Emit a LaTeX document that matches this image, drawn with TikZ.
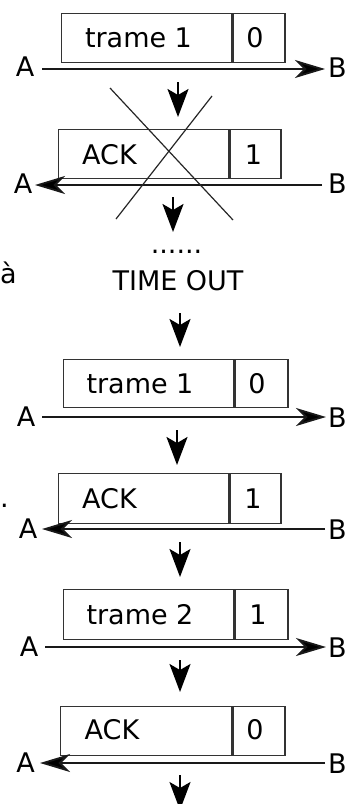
\documentclass[tikz,border=0pt]{standalone}
\usepackage{fontspec}
\setmainfont{DejaVu Sans}
\usetikzlibrary{arrows.meta}
\begin{document}
\begin{tikzpicture}[x=1bp,y=-1bp,
  cell/.style={draw=black!80, line width=1.3bp, inner sep=0pt, anchor=north west},
  lbl/.style={font=\fontsize{27bp}{32bp}\selectfont, inner sep=0pt, anchor=base},
  endB/.style={lbl, anchor=base west},
  harrow/.style={line width=1.8bp, draw=black!90, -{Stealth[length=30bp,width=18bp,inset=9bp,fill=black]}},
  varrow/.style={line width=2bp, -{Stealth[length=28bp,width=21bp,inset=6bp]}},
  crossline/.style={line width=1.2bp, draw=black!85}]
\useasboundingbox (0,0) rectangle (347,804);

% block 1
\node[cell, minimum width=170bp, minimum height=49bp] (c1a) at (61,13) {};
\node[cell, minimum width=52bp, minimum height=49bp] (c1b) at (c1a.north east) {};
\node[lbl] (t1a) at (138.5,48) {trame 1};
\node[lbl] (t1b) at (255,48) {0};
\node[lbl] (A1) at (25,77) {A};
\node[endB] (B1) at (328,78) {B};
\coordinate (h1s) at (42,69); \coordinate (h1e) at (325,69);
\draw[harrow] (h1s) -- (h1e);
\coordinate (d1s) at (178,82); \coordinate (d1e) at (178,117);
\draw[varrow] (d1s) -- (d1e);

% block 2
\node[cell, minimum width=170bp, minimum height=49bp] (c2a) at (58,129) {};
\node[cell, minimum width=51bp, minimum height=49bp] (c2b) at (c2a.north east) {};
\node[lbl] (t2a) at (109.5,164) {ACK};
\node[lbl] (t2b) at (253.5,164) {1};
\node[lbl] (A2) at (23,193) {A};
\node[endB] (B2) at (328,193) {B};
\coordinate (h2s) at (322,185); \coordinate (h2e) at (35,185);
\draw[harrow] (h2s) -- (h2e);

% cross
\coordinate (x1s) at (110,88); \coordinate (x1e) at (233,220);
\coordinate (x2s) at (212,96); \coordinate (x2e) at (116,219);
\draw[crossline] (x1s) -- (x1e);
\draw[crossline] (x2s) -- (x2e);

\coordinate (d2s) at (173,197); \coordinate (d2e) at (173,232);
\draw[varrow] (d2s) -- (d2e);

% time out
\node[lbl] (dots) at (176.5,253) {......};
\node[lbl] (tout) at (178,290) {TIME OUT};
\node[lbl, anchor=base west] (frag1) at (0,283) {à};
\node[lbl, anchor=base west] (frag2) at (0,507) {.};
\coordinate (d3s) at (180,313); \coordinate (d3e) at (180,347);
\draw[varrow] (d3s) -- (d3e);

% block 3
\node[cell, minimum width=170bp, minimum height=48bp] (c3a) at (63,359) {};
\node[cell, minimum width=53bp, minimum height=48bp] (c3b) at (c3a.north east) {};
\node[lbl] (t3a) at (140,393) {trame 1};
\node[lbl] (t3b) at (257,393) {0};
\node[lbl] (A3) at (26,426) {A};
\node[endB] (B3) at (328,427) {B};
\coordinate (h3s) at (42,417); \coordinate (h3e) at (326,417);
\draw[harrow] (h3s) -- (h3e);
\coordinate (d4s) at (177,430); \coordinate (d4e) at (177,465);
\draw[varrow] (d4s) -- (d4e);

% block 4
\node[cell, minimum width=170bp, minimum height=50bp] (c4a) at (58,473) {};
\node[cell, minimum width=51bp, minimum height=50bp] (c4b) at (c4a.north east) {};
\node[lbl] (t4a) at (109.5,508) {ACK};
\node[lbl] (t4b) at (253,508) {1};
\node[lbl] (A4) at (28,538) {A};
\node[endB] (B4) at (328,539) {B};
\coordinate (h4s) at (325,529); \coordinate (h4e) at (42,529);
\draw[harrow] (h4s) -- (h4e);
\coordinate (d5s) at (180,542); \coordinate (d5e) at (180,577);
\draw[varrow] (d5s) -- (d5e);

% block 5
\node[cell, minimum width=170bp, minimum height=50bp] (c5a) at (63,589) {};
\node[cell, minimum width=53bp, minimum height=50bp] (c5b) at (c5a.north east) {};
\node[lbl] (t5a) at (140,624) {trame 2};
\node[lbl] (t5b) at (258,624) {1};
\node[lbl] (A5) at (29,656) {A};
\node[endB] (B5) at (328,657) {B};
\coordinate (h5s) at (45,647); \coordinate (h5e) at (326,647);
\draw[harrow] (h5s) -- (h5e);
\coordinate (d6s) at (180,660); \coordinate (d6e) at (180,692);
\draw[varrow] (d6s) -- (d6e);

% block 6
\node[cell, minimum width=171bp, minimum height=49bp] (c6a) at (60,706) {};
\node[cell, minimum width=52bp, minimum height=49bp] (c6b) at (c6a.north east) {};
\node[lbl] (t6a) at (112,739) {ACK};
\node[lbl] (t6b) at (255,739) {0};
\node[lbl] (A6) at (25.5,772) {A};
\node[endB] (B6) at (328,773) {B};
\coordinate (h6s) at (325,763); \coordinate (h6e) at (40,763);
\draw[harrow] (h6s) -- (h6e);
\coordinate (d7s) at (180,775); \coordinate (d7e) at (180,810);
\draw[varrow] (d7s) -- (d7e);
\end{tikzpicture}
\end{document}
